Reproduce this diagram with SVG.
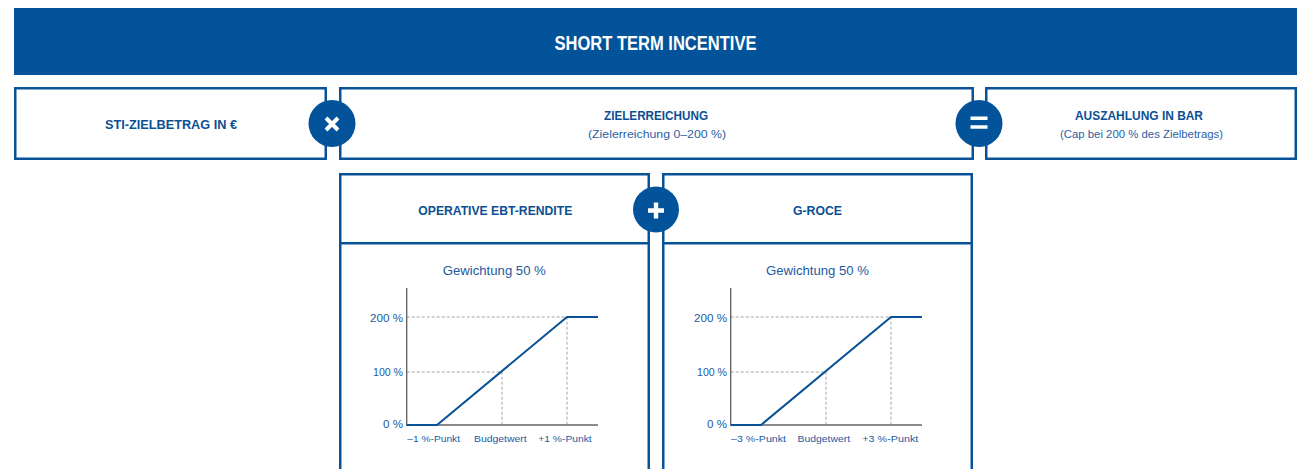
<svg xmlns="http://www.w3.org/2000/svg" width="1298" height="469" viewBox="0 0 1298 469">
<style>
.box{fill:#fff;stroke:#0a5297;stroke-width:2.5}
.op{fill:#02539a}
.sym{stroke:#fff;stroke-width:4;stroke-linecap:butt;fill:none}
.t{font-family:"Liberation Sans",Arial,sans-serif;font-weight:bold;fill:#0b4f94;text-anchor:middle;font-size:13.5px}
.s{font-family:"Liberation Sans",Arial,sans-serif;fill:#2a5fa5;text-anchor:middle;font-size:11.5px}
.g{font-family:"Liberation Sans",Arial,sans-serif;fill:#1c5aa2;text-anchor:middle;font-size:12.5px}
.yl{font-family:"Liberation Sans",Arial,sans-serif;fill:#1c5aa2;text-anchor:end;font-size:10px}
.xl{font-family:"Liberation Sans",Arial,sans-serif;fill:#1c5aa2;text-anchor:middle;font-size:9.5px}
.axis{stroke:#666;stroke-width:1.4;fill:none}
.dash{stroke:#9a9a9a;stroke-width:0.9;stroke-dasharray:3 2;fill:none}
.curve{stroke:#0a5297;stroke-width:2;fill:none;stroke-linejoin:miter}
</style>
<defs>
<g id="chartbase">
<path class="dash" d="M406.7 317H567V425M406.7 372H502V425"/>
<path class="axis" d="M406.7 288V425H598"/>
<path class="curve" d="M406.7 425H437L567 317H598"/>
<text class="yl" x="403" y="321.5" textLength="33" lengthAdjust="spacingAndGlyphs">200 %</text>
<text class="yl" x="403" y="376" textLength="30" lengthAdjust="spacingAndGlyphs">100 %</text>
<text class="yl" x="403" y="427.5" textLength="20" lengthAdjust="spacingAndGlyphs">0 %</text>
</g>
</defs>
<g id="header">
<rect x="14" y="8" width="1283" height="67" fill="#02539a"/>
<text x="655.5" y="50" style="font-family:'Liberation Sans',Arial,sans-serif;font-weight:bold;font-size:19.5px;fill:#fff;text-anchor:middle" textLength="202" lengthAdjust="spacingAndGlyphs">SHORT TERM INCENTIVE</text>
</g>
<g id="sti">
<rect class="box" x="15.25" y="88.25" width="310.5" height="70.5"/>
<text class="t" x="171" y="128.5" textLength="132" lengthAdjust="spacingAndGlyphs">STI-ZIELBETRAG IN €</text>
</g>
<g id="zielerreichung">
<rect class="box" x="340.25" y="88.25" width="632.5" height="70.5"/>
<text class="t" x="656" y="120" textLength="104" lengthAdjust="spacingAndGlyphs">ZIELERREICHUNG</text>
<text class="s" x="657" y="137.5" textLength="138" lengthAdjust="spacingAndGlyphs">(Zielerreichung 0–200 %)</text>
</g>
<g id="auszahlung">
<rect class="box" x="986.25" y="88.25" width="309.5" height="70.5"/>
<text class="t" x="1139" y="120" textLength="128" lengthAdjust="spacingAndGlyphs">AUSZAHLUNG IN BAR</text>
<text class="s" x="1141.5" y="137.5" textLength="163" lengthAdjust="spacingAndGlyphs">(Cap bei 200 % des Zielbetrags)</text>
</g>
<g id="ebt">
<rect class="box" x="340.25" y="174.25" width="308.5" height="69"/>
<text class="t" x="495.3" y="215" textLength="154" lengthAdjust="spacingAndGlyphs">OPERATIVE EBT-RENDITE</text>
</g>
<g id="ebt-chart">
<rect class="box" x="340.25" y="243.25" width="308.5" height="260"/>
<text class="g" x="494.3" y="275" textLength="103" lengthAdjust="spacingAndGlyphs">Gewichtung 50 %</text>
<use href="#chartbase"/>
<text class="xl" x="433.7" y="441.5" textLength="52.7" lengthAdjust="spacingAndGlyphs">–1 %-Punkt</text>
<text class="xl" x="500.3" y="441.5" textLength="52.7" lengthAdjust="spacingAndGlyphs">Budgetwert</text>
<text class="xl" x="565" y="441.5" textLength="53.4" lengthAdjust="spacingAndGlyphs">+1 %-Punkt</text>
</g>
<g id="groce">
<rect class="box" x="663.25" y="174.25" width="308.5" height="69"/>
<text class="t" x="817.5" y="215" textLength="49" lengthAdjust="spacingAndGlyphs">G-ROCE</text>
</g>
<g id="groce-chart">
<rect class="box" x="663.25" y="243.25" width="308.5" height="260"/>
<text class="g" x="817.5" y="275" textLength="103" lengthAdjust="spacingAndGlyphs">Gewichtung 50 %</text>
<use href="#chartbase" transform="translate(324,0)"/>
<text class="xl" x="758.5" y="441.5" textLength="55" lengthAdjust="spacingAndGlyphs">–3 %-Punkt</text>
<text class="xl" x="823.8" y="441.5" textLength="52.5" lengthAdjust="spacingAndGlyphs">Budgetwert</text>
<text class="xl" x="890.3" y="441.5" textLength="56" lengthAdjust="spacingAndGlyphs">+3 %-Punkt</text>
</g>
<g id="op-times">
<circle class="op" cx="332" cy="123.5" r="23.5"/>
<path class="sym" d="M326 118L338 130M338 118L326 130"/>
</g>
<g id="op-equals">
<circle class="op" cx="979" cy="123.5" r="23.5"/>
<path class="sym" d="M970.5 118.3H987.5M970.5 127H987.5" style="stroke-width:3.6"/>
</g>
<g id="op-plus">
<circle class="op" cx="656" cy="209.5" r="23"/>
<path class="sym" d="M648 210.5H664M656 202.5V218.5" style="stroke-width:4.4"/>
</g>
<g id="connectors"/>
</svg>
